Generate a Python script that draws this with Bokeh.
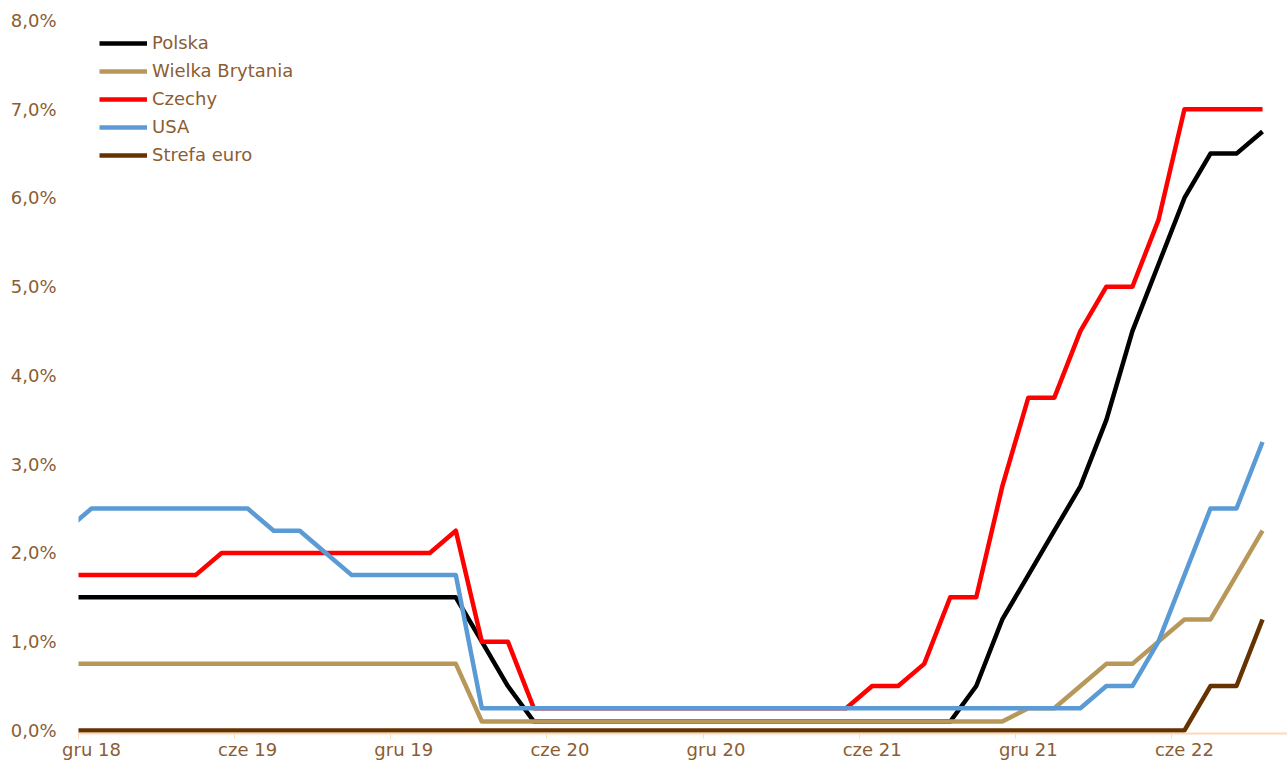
from bokeh.plotting import figure
from bokeh.models import FixedTicker, Range1d, Legend, LegendItem
from bokeh.embed import file_html
from bokeh.resources import INLINE

# monthly observations, Nov 2018 .. Sep 2022
months = ["lis 18", "gru 18",
          "sty 19", "lut 19", "mar 19", "kwi 19", "maj 19", "cze 19",
          "lip 19", "sie 19", "wrz 19", "paź 19", "lis 19", "gru 19",
          "sty 20", "lut 20", "mar 20", "kwi 20", "maj 20", "cze 20",
          "lip 20", "sie 20", "wrz 20", "paź 20", "lis 20", "gru 20",
          "sty 21", "lut 21", "mar 21", "kwi 21", "maj 21", "cze 21",
          "lip 21", "sie 21", "wrz 21", "paź 21", "lis 21", "gru 21",
          "sty 22", "lut 22", "mar 22", "kwi 22", "maj 22", "cze 22",
          "lip 22", "sie 22", "wrz 22"]

polska = [1.5, 1.5,
          1.5, 1.5, 1.5, 1.5, 1.5, 1.5, 1.5, 1.5, 1.5, 1.5, 1.5, 1.5,
          1.5, 1.5, 1.0, 0.5, 0.1, 0.1, 0.1, 0.1, 0.1, 0.1, 0.1, 0.1,
          0.1, 0.1, 0.1, 0.1, 0.1, 0.1, 0.1, 0.1, 0.1, 0.5, 1.25, 1.75,
          2.25, 2.75, 3.5, 4.5, 5.25, 6.0, 6.5, 6.5, 6.75]

wielka_brytania = [0.75, 0.75,
                   0.75, 0.75, 0.75, 0.75, 0.75, 0.75, 0.75, 0.75, 0.75, 0.75, 0.75, 0.75,
                   0.75, 0.75, 0.1, 0.1, 0.1, 0.1, 0.1, 0.1, 0.1, 0.1, 0.1, 0.1,
                   0.1, 0.1, 0.1, 0.1, 0.1, 0.1, 0.1, 0.1, 0.1, 0.1, 0.1, 0.25,
                   0.25, 0.5, 0.75, 0.75, 1.0, 1.25, 1.25, 1.75, 2.25]

czechy = [1.75, 1.75,
          1.75, 1.75, 1.75, 1.75, 2.0, 2.0, 2.0, 2.0, 2.0, 2.0, 2.0, 2.0,
          2.0, 2.25, 1.0, 1.0, 0.25, 0.25, 0.25, 0.25, 0.25, 0.25, 0.25, 0.25,
          0.25, 0.25, 0.25, 0.25, 0.25, 0.5, 0.5, 0.75, 1.5, 1.5, 2.75, 3.75,
          3.75, 4.5, 5.0, 5.0, 5.75, 7.0, 7.0, 7.0, 7.0]

usa = [2.25, 2.5,
       2.5, 2.5, 2.5, 2.5, 2.5, 2.5, 2.25, 2.25, 2.0, 1.75, 1.75, 1.75,
       1.75, 1.75, 0.25, 0.25, 0.25, 0.25, 0.25, 0.25, 0.25, 0.25, 0.25, 0.25,
       0.25, 0.25, 0.25, 0.25, 0.25, 0.25, 0.25, 0.25, 0.25, 0.25, 0.25, 0.25,
       0.25, 0.25, 0.5, 0.5, 1.0, 1.75, 2.5, 2.5, 3.25]

strefa_euro = [0.0, 0.0,
               0.0, 0.0, 0.0, 0.0, 0.0, 0.0, 0.0, 0.0, 0.0, 0.0, 0.0, 0.0,
               0.0, 0.0, 0.0, 0.0, 0.0, 0.0, 0.0, 0.0, 0.0, 0.0, 0.0, 0.0,
               0.0, 0.0, 0.0, 0.0, 0.0, 0.0, 0.0, 0.0, 0.0, 0.0, 0.0, 0.0,
               0.0, 0.0, 0.0, 0.0, 0.0, 0.0, 0.5, 0.5, 1.25]

tick_months = ["gru 18", "cze 19", "gru 19", "cze 20", "gru 20", "cze 21", "gru 21", "cze 22"]
y_ticks = [0, 1, 2, 3, 4, 5, 6, 7, 8]
y_tick_labels = ["0,0%", "1,0%", "2,0%", "3,0%", "4,0%", "5,0%", "6,0%", "7,0%", "8,0%"]

series = [("Polska", polska, "#000000"),
          ("Wielka Brytania", wielka_brytania, "#B8985A"),
          ("Czechy", czechy, "#FF0000"),
          ("USA", usa, "#5B9BD5"),
          ("Strefa euro", strefa_euro, "#663300")]

FONT = "DejaVu Sans"
TXT = "#8B5D33"
AXIS = "#FFD8B8"

x = list(range(len(months)))
tick_pos = [months.index(m) for m in tick_months]

p = figure(width=1287, height=762, output_backend="svg", toolbar_location=None,
           x_range=Range1d(0.5, 46.96), y_range=Range1d(-0.035, 8),
           min_border_left=78, min_border_right=0, min_border_top=20, min_border_bottom=0)
p.outline_line_color = None
p.xgrid.grid_line_color = None
p.ygrid.grid_line_color = None
p.background_fill_color = "white"

items = []
for name, vals, col in series:
    r = p.line(x, vals, line_color=col, line_width=4.5, line_join="round")
    items.append(LegendItem(label=name, renderers=[r]))

# x axis
p.xaxis.ticker = FixedTicker(ticks=tick_pos, minor_ticks=[t - 0.5 for t in tick_pos])
p.xaxis.major_label_overrides = {t: lab for t, lab in zip(tick_pos, tick_months)}
p.xaxis.major_tick_line_color = None
p.xaxis.major_tick_out = 0
p.xaxis.major_tick_in = 0
p.xaxis.minor_tick_line_color = AXIS
p.xaxis.minor_tick_out = 5
p.xaxis.minor_tick_in = 0
p.xaxis.axis_line_color = AXIS
p.xaxis.axis_line_width = 2
p.xaxis.major_label_standoff = 0
p.xaxis.major_label_text_font = FONT
p.xaxis.major_label_text_font_size = "18px"
p.xaxis.major_label_text_color = TXT

# y axis
p.yaxis.ticker = FixedTicker(ticks=y_ticks)
p.yaxis.major_label_overrides = {t: lab for t, lab in zip(y_ticks, y_tick_labels)}
p.yaxis.axis_line_color = None
p.yaxis.major_tick_line_color = None
p.yaxis.minor_tick_line_color = None
p.yaxis.major_tick_out = 0
p.yaxis.major_tick_in = 0
p.yaxis.major_label_standoff = 22
p.yaxis.major_label_text_font = FONT
p.yaxis.major_label_text_font_size = "18px"
p.yaxis.major_label_text_color = TXT

legend = Legend(items=items, location=(21, 568))
legend.border_line_color = None
legend.background_fill_alpha = 0
legend.padding = 0
legend.margin = 0
legend.spacing = 7
legend.glyph_width = 48
legend.glyph_height = 20
legend.label_height = 20
legend.label_standoff = 5
legend.label_text_font = FONT
legend.label_text_font_size = "18px"
legend.label_text_color = TXT
p.add_layout(legend)

open("out.html", "w").write(file_html(p, INLINE))
